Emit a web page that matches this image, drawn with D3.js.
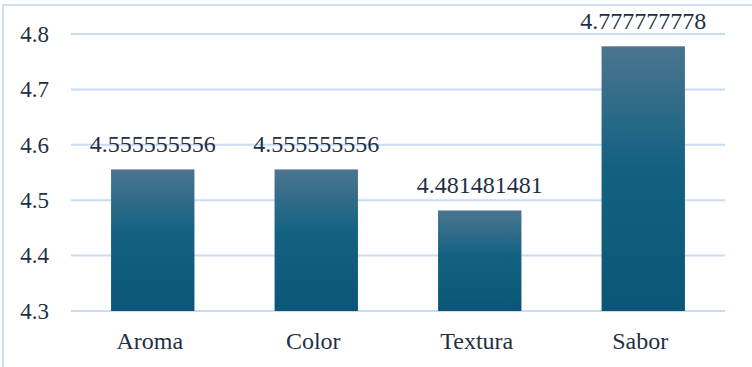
<!DOCTYPE html>
<html><head><meta charset="utf-8">
<script src="https://cdn.jsdelivr.net/npm/d3@7"></script>
<style>
html,body{margin:0;padding:0;background:#fff;}
svg{display:block;}
text{font-family:"Liberation Serif","Times New Roman",serif;fill:#1f3044;}
</style></head>
<body>
<script>
const categories = ["Aroma", "Color", "Textura", "Sabor"];
const values = [4.555555556, 4.555555556, 4.481481481, 4.777777778];
const valueLabels = ["4.555555556", "4.555555556", "4.481481481", "4.777777778"];
const yTicks = [4.3, 4.4, 4.5, 4.6, 4.7, 4.8];

const W = 752, H = 367;
const svg = d3.select("body").append("svg").attr("width", W).attr("height", H);

const defs = svg.append("defs");
const grad = defs.append("linearGradient").attr("id", "barGrad")
  .attr("x1", 0).attr("y1", 0).attr("x2", 0).attr("y2", 1);
grad.append("stop").attr("offset", "0%").attr("stop-color", "#4b7590");
grad.append("stop").attr("offset", "45%").attr("stop-color", "#136181");
grad.append("stop").attr("offset", "100%").attr("stop-color", "#0b5677");

// outer border (extends past right/bottom edge)
svg.append("rect").attr("x", 3).attr("y", 5).attr("width", W + 10).attr("height", H + 10)
  .attr("fill", "none").attr("stroke", "#cddff2").attr("stroke-width", 2);

const x = d3.scaleBand().domain(categories).range([71, 725]).paddingInner(0.49).paddingOuter(0.245);
const y = d3.scaleLinear().domain([4.3, 4.8]).range([311, 34]);

// gridlines
svg.append("g").selectAll("line").data(yTicks).join("line")
  .attr("x1", 71).attr("x2", 725)
  .attr("y1", d => y(d)).attr("y2", d => y(d))
  .attr("stroke", "#c9dcf2").attr("stroke-width", 2);

// y axis labels
const yAxis = d3.axisLeft(y).tickValues(yTicks).tickFormat(d3.format(".1f")).tickSize(0).tickPadding(0);
const ya = svg.append("g").attr("transform", "translate(49,0)").call(yAxis);
ya.select(".domain").remove();
ya.selectAll("text").attr("font-size", 23).attr("fill", "#1f3044")
  .attr("font-family", '"Liberation Serif","Times New Roman",serif');

// bars
svg.append("g").selectAll("rect").data(values).join("rect")
  .attr("x", (d, i) => x(categories[i]))
  .attr("width", x.bandwidth())
  .attr("y", d => y(d))
  .attr("height", d => y(4.3) - y(d))
  .attr("fill", "url(#barGrad)");

// value labels
svg.append("g").selectAll("text").data(values).join("text")
  .attr("x", (d, i) => x(categories[i]) + x.bandwidth() / 2)
  .attr("y", d => y(d) - 17)
  .attr("text-anchor", "middle")
  .attr("font-size", 24)
  .text((d, i) => valueLabels[i]);

// x axis labels
const xAxis = d3.axisBottom(x).tickSize(0).tickPadding(0);
const xa = svg.append("g").attr("transform", "translate(-3,349)").call(xAxis);
xa.select(".domain").remove();
xa.selectAll("text").attr("dy", 0).attr("font-size", 24).attr("fill", "#1f3044")
  .attr("font-family", '"Liberation Serif","Times New Roman",serif');
</script>
</body></html>
